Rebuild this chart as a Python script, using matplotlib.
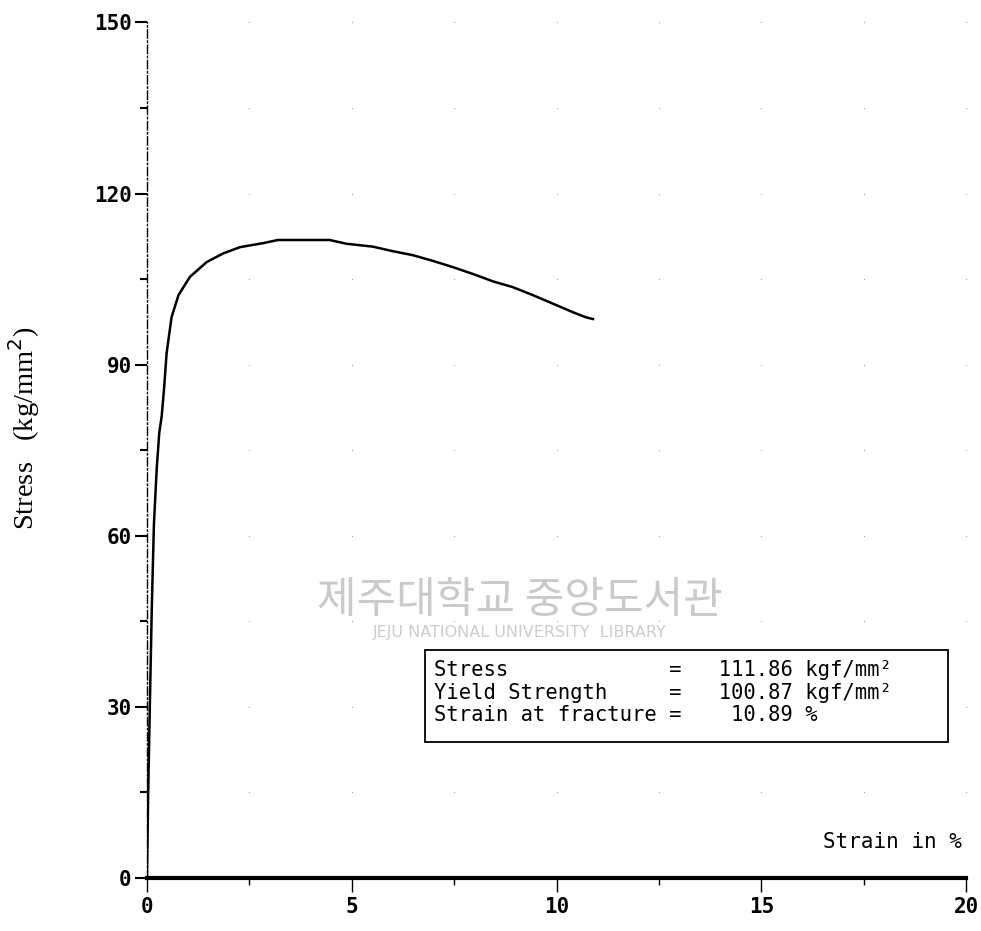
import numpy as np
import matplotlib
matplotlib.use("Agg")
import matplotlib.pyplot as plt
from matplotlib.ticker import MultipleLocator

# Stress-strain curve
strain = [0, 0.03, 0.07, 0.12, 0.17, 0.24, 0.30, 0.36, 0.42, 0.48, 0.60, 0.77,
          1.05, 1.46, 1.86, 2.27, 2.83, 3.20, 4.46, 4.87, 5.51, 6.00, 6.49,
          6.98, 7.47, 7.96, 8.45, 8.93, 9.42, 9.91, 10.40, 10.72, 10.89]
stress = [0, 15, 30, 48, 62, 72, 78, 81, 86, 92, 98.3, 102.2,
          105.4, 108.0, 109.5, 110.6, 111.3, 111.86, 111.86, 111.2, 110.7, 109.9, 109.2,
          108.2, 107.1, 105.9, 104.6, 103.6, 102.2, 100.7, 99.2, 98.3, 98.0]

x_ticks = [0, 5, 10, 15, 20]
y_ticks = [0, 30, 60, 90, 120, 150]

result_names = ["Stress", "Yield Strength", "Strain at fracture"]
result_values = ["111.86", "100.87", "10.89"]
result_units = ["kgf/mm²", "kgf/mm²", "%"]

mono = "DejaVu Sans Mono"

fig = plt.figure(figsize=(9.81, 9.31), dpi=100)
ax = fig.add_axes([0.1498, 0.0569, 0.835, 0.919])

# faint dotted grid of the plotter paper
gx, gy = np.meshgrid(np.arange(2.5, 20.1, 2.5), np.arange(15, 151, 15))
ax.scatter(gx.ravel(), gy.ravel(), s=0.6, color="#888888", lw=0, zorder=1)

ax.plot(strain, stress, color="black", lw=1.8, zorder=3)

ax.set_xlim(0, 20)
ax.set_ylim(0, 150)
ax.set_xticks(x_ticks)
ax.set_yticks(y_ticks)
ax.xaxis.set_minor_locator(MultipleLocator(2.5))
ax.yaxis.set_minor_locator(MultipleLocator(15))

for s in ["top", "right"]:
    ax.spines[s].set_visible(False)
ax.spines["bottom"].set_linewidth(3)
ax.spines["left"].set_linewidth(1.0)
ax.spines["left"].set_linestyle((0, (6, 2, 1, 2)))

ax.tick_params(axis="x", which="major", direction="out", length=10, width=1,
               pad=4, labelsize=15)
ax.tick_params(axis="x", which="minor", direction="out", length=5, width=1)
ax.tick_params(axis="y", which="major", direction="out", length=9, width=1.5,
               pad=2, labelsize=15)
ax.tick_params(axis="y", which="minor", direction="out", length=5, width=1.5)
for lab in ax.get_xticklabels() + ax.get_yticklabels():
    lab.set_family(mono)
    lab.set_weight("bold")

ax.set_ylabel("Stress   (kg/mm$^2$)", family="Liberation Serif", fontsize=20.5)
ax.yaxis.set_label_coords(-0.128, 0.526)
ax.text(19.9, 4.5, "Strain in %", family=mono, fontsize=15, ha="right",
        va="bottom")

# results box
ax.add_patch(plt.Rectangle((6.8, 23.8), 12.75, 16.15, fc="white", lw=1.3,
                           ec="black", zorder=4))
for i in range(3):
    line = f"{result_names[i]:<19}= {result_values[i]:>8} {result_units[i]}"
    ax.text(7.0, 36.5 - i * 4.0, line, family=mono, fontsize=14.8,
            va="center", ha="left", zorder=5)

# library watermark
ax.text(9.1, 48.5, "제주대학교 중앙도서관", family=["Noto Sans CJK KR", "DejaVu Sans"],
        fontsize=31, color="#bdbdbd", ha="center", va="center", alpha=0.8,
        zorder=0)
ax.text(9.1, 43.0, "JEJU NATIONAL UNIVERSITY  LIBRARY", family="DejaVu Sans",
        fontsize=11.5, color="#cccccc", ha="center", va="center", zorder=0)

fig.savefig("out.png", dpi=100)
